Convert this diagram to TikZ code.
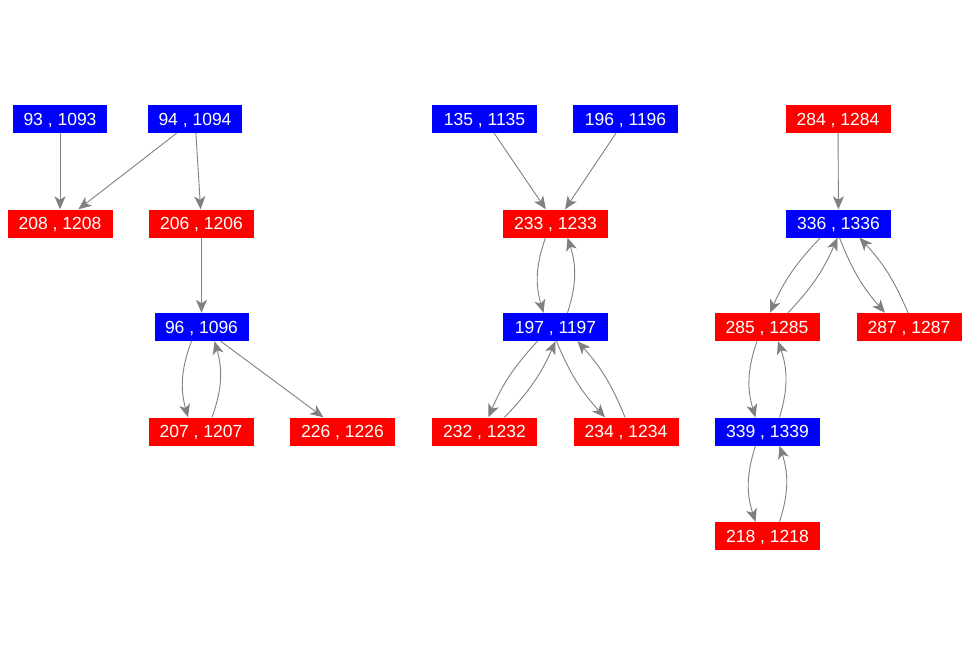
\documentclass[tikz,border=0pt]{standalone}
\usepackage{fontspec}
\setmainfont{Liberation Sans}
\usepackage{xcolor}
\definecolor{gvblue}{RGB}{0,0,255}
\definecolor{gvred}{RGB}{255,0,0}
\definecolor{gvgray}{RGB}{128,128,128}
\usetikzlibrary{arrows.meta}

\begin{document}
\begin{tikzpicture}[x=1pt, y=1pt,
  box/.style={minimum height=28pt, inner xsep=0pt, text depth=0pt, text=white, font=\fontsize{17.5}{19}\selectfont},
  bluebox/.style={box, fill=gvblue, minimum width=94pt},
  bluewide/.style={box, fill=gvblue, minimum width=105pt},
  redbox/.style={box, fill=gvred, minimum width=105pt},
  edge/.style={draw=gvgray, line width=0.9pt, -{Stealth[length=13pt, width=11pt, inset=3.5pt]}}]
  \useasboundingbox (0,0) rectangle (972,-656);

  %% first group
  \node[bluebox] (v93) at (60,-119) {93 , 1093};
  \node[bluebox] (v94) at (195,-119) {94 , 1094};
  \node[redbox] (v208) at (60,-223.5) {208 , 1208};
  \node[redbox] (v206) at (201.5,-223.5) {206 , 1206};
  \node[bluebox] (v96) at (201.5,-327) {96 , 1096};
  \node[redbox] (v207) at (201,-431.5) {207 , 1207};
  \node[redbox] (v226) at (342.5,-431.5) {226 , 1226};

  %% second group
  \node[bluewide] (v135) at (484.5,-119) {135 , 1135};
  \node[bluewide] (v196) at (625.5,-119) {196 , 1196};
  \node[redbox] (v233) at (555.5,-223.5) {233 , 1233};
  \node[bluewide] (v197) at (555.5,-327) {197 , 1197};
  \node[redbox] (v232) at (484.5,-431.5) {232 , 1232};
  \node[redbox] (v234) at (626,-431.5) {234 , 1234};

  %% third group
  \node[redbox] (v284) at (838,-119) {284 , 1284};
  \node[bluewide] (v336) at (838.5,-223.5) {336 , 1336};
  \node[redbox] (v285) at (767,-327) {285 , 1285};
  \node[redbox] (v287) at (909,-327) {287 , 1287};
  \node[bluewide] (v339) at (767.5,-431.5) {339 , 1339};
  \node[redbox] (v218) at (767.5,-536) {218 , 1218};

  %% edges
  \draw[edge] (v93) -- (v208);
  \draw[edge] (v94) -- (v208);
  \draw[edge] (v94) -- (v206);
  \draw[edge] (v206) -- (v96);
  \draw[edge] ([xshift=-10pt]v96.south) to[bend right=18] ([xshift=-13pt]v207.north);
  \draw[edge] ([xshift=11pt]v207.north) to[bend right=18] ([xshift=13pt]v96.south);
  \draw[edge] (v96) -- (v226);

  \draw[edge] (v135) -- (v233);
  \draw[edge] (v196) -- (v233);
  \draw[edge] ([xshift=-10pt]v233.south) to[bend right=18] ([xshift=-12pt]v197.north);
  \draw[edge] ([xshift=12pt]v197.north) to[bend right=18] ([xshift=12pt]v233.south);
  \draw[edge] ([xshift=-18pt]v197.south) to[bend right=10] ([xshift=4pt]v232.north);
  \draw[edge] ([xshift=20pt]v232.north) to[bend right=10] ([xshift=0pt]v197.south);
  \draw[edge] ([xshift=1pt]v197.south) to[bend right=10] ([xshift=-21pt]v234.north);
  \draw[edge] ([xshift=-1pt]v234.north) to[bend right=10] ([xshift=22pt]v197.south);

  \draw[edge] (v284) -- (v336);
  \draw[edge] ([xshift=-18pt]v336.south) to[bend right=10] ([xshift=3pt]v285.north);
  \draw[edge] ([xshift=21pt]v285.north) to[bend right=10] ([xshift=-1pt]v336.south);
  \draw[edge] ([xshift=1pt]v336.south) to[bend right=10] ([xshift=-24pt]v287.north);
  \draw[edge] ([xshift=-1pt]v287.north) to[bend right=10] ([xshift=21pt]v336.south);
  \draw[edge] ([xshift=-10pt]v285.south) to[bend right=18] ([xshift=-12pt]v339.north);
  \draw[edge] ([xshift=12pt]v339.north) to[bend right=18] ([xshift=11pt]v285.south);
  \draw[edge] ([xshift=-12pt]v339.south) to[bend right=18] ([xshift=-12pt]v218.north);
  \draw[edge] ([xshift=12pt]v218.north) to[bend right=18] ([xshift=12pt]v339.south);
\end{tikzpicture}
\end{document}
